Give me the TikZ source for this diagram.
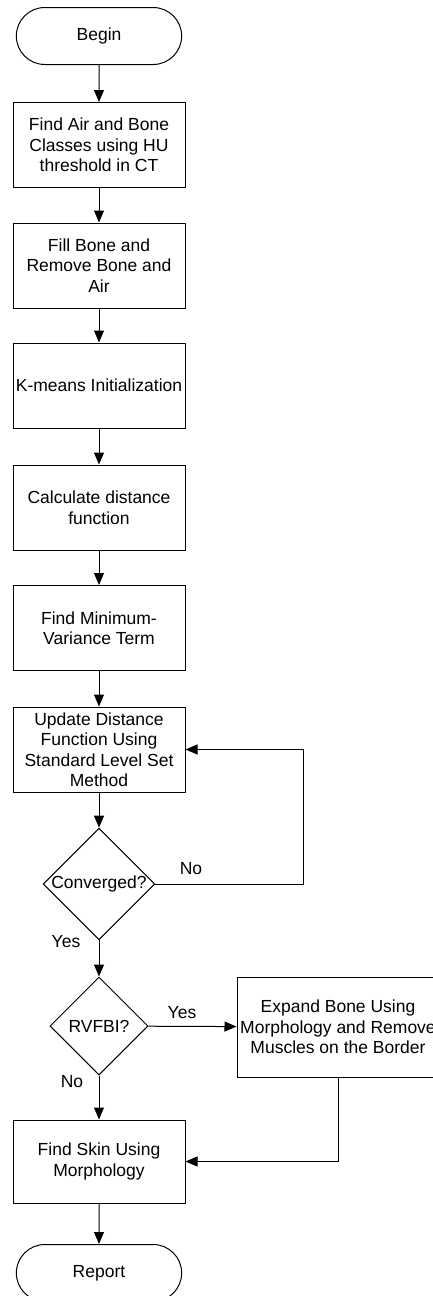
\documentclass[tikz,border=0pt]{standalone}
\usepackage{fontspec}
\setmainfont{Liberation Sans}
\usetikzlibrary{shapes.misc,shapes.geometric,arrows.meta}

\tikzset{
    stepbox/.style={draw, rectangle, minimum width=172pt, minimum height=85pt, align=center, inner sep=1pt},
    terminal/.style={draw, rounded rectangle, minimum width=172pt, minimum height=57pt},
    decision/.style={draw, diamond, aspect=1, inner sep=0pt, align=center},
    flow/.style={-{Triangle[width=10pt,length=12pt]}},
    lbl/.style={inner sep=1pt}
}

\begin{document}
\begin{tikzpicture}[x=1pt, y=-1pt, line width=1pt, font=\fontsize{17.5}{20.5}\selectfont]
            \useasboundingbox (0,0) rectangle (432,1296);

            % main column
            \node[terminal] (begin) at (99,36) {Begin};
            \node[stepbox] (air) at (99,145) {Find Air and Bone\\Classes using HU\\threshold in CT};
            \node[stepbox] (fill) at (99,265.5) {Fill Bone and\\Remove Bone and\\Air};
            \node[stepbox] (kmeans) at (99,385.5) {K-means Initialization};
            \node[stepbox] (dist) at (99,507.5) {Calculate distance\\function};
            \node[stepbox] (minvar) at (99,628) {Find Minimum-\\Variance Term};
            \node[stepbox] (update) at (99,749.5) {Update Distance\\Function Using\\Standard Level Set\\Method};
            \node[decision, minimum width=109pt, minimum height=106pt] (conv) at (99,884) {Converged?};
            \node[decision, minimum width=98pt, minimum height=98pt] (rvfbi) at (99,1026) {RVFBI?};
            \node[stepbox, minimum width=202pt, minimum height=100pt] (expand) at (338,1027) {Expand Bone Using\\Morphology and Remove\\Muscles on the Border};
            \node[stepbox, minimum height=83pt] (skin) at (99,1161.5) {Find Skin Using\\Morphology};
            \node[terminal] (report) at (99,1273) {Report};

            % connectors
            \draw[flow] (begin) -- (air);
            \draw[flow] (air) -- (fill);
            \draw[flow] (fill) -- (kmeans);
            \draw[flow] (kmeans) -- (dist);
            \draw[flow] (dist) -- (minvar);
            \draw[flow] (minvar) -- (update);
            \draw[flow] (update) -- (conv);
            \draw[flow] (conv.east) -- (303,884) |- (update.east);
            \draw[flow] (conv) -- (rvfbi);
            \draw[flow] (rvfbi) -- (expand);
            \draw[flow] (rvfbi) -- (skin);
            \draw[flow] (expand.south) |- (skin.east);
            \draw[flow] (skin) -- (report);

            % labels
            \node[lbl] (lno1) at (191,869) {No};
            \node[lbl] (lyes1) at (66,942) {Yes};
            \node[lbl] (lyes2) at (182,1013) {Yes};
            \node[lbl] (lno2) at (72,1082) {No};
        \end{tikzpicture}
\end{document}
